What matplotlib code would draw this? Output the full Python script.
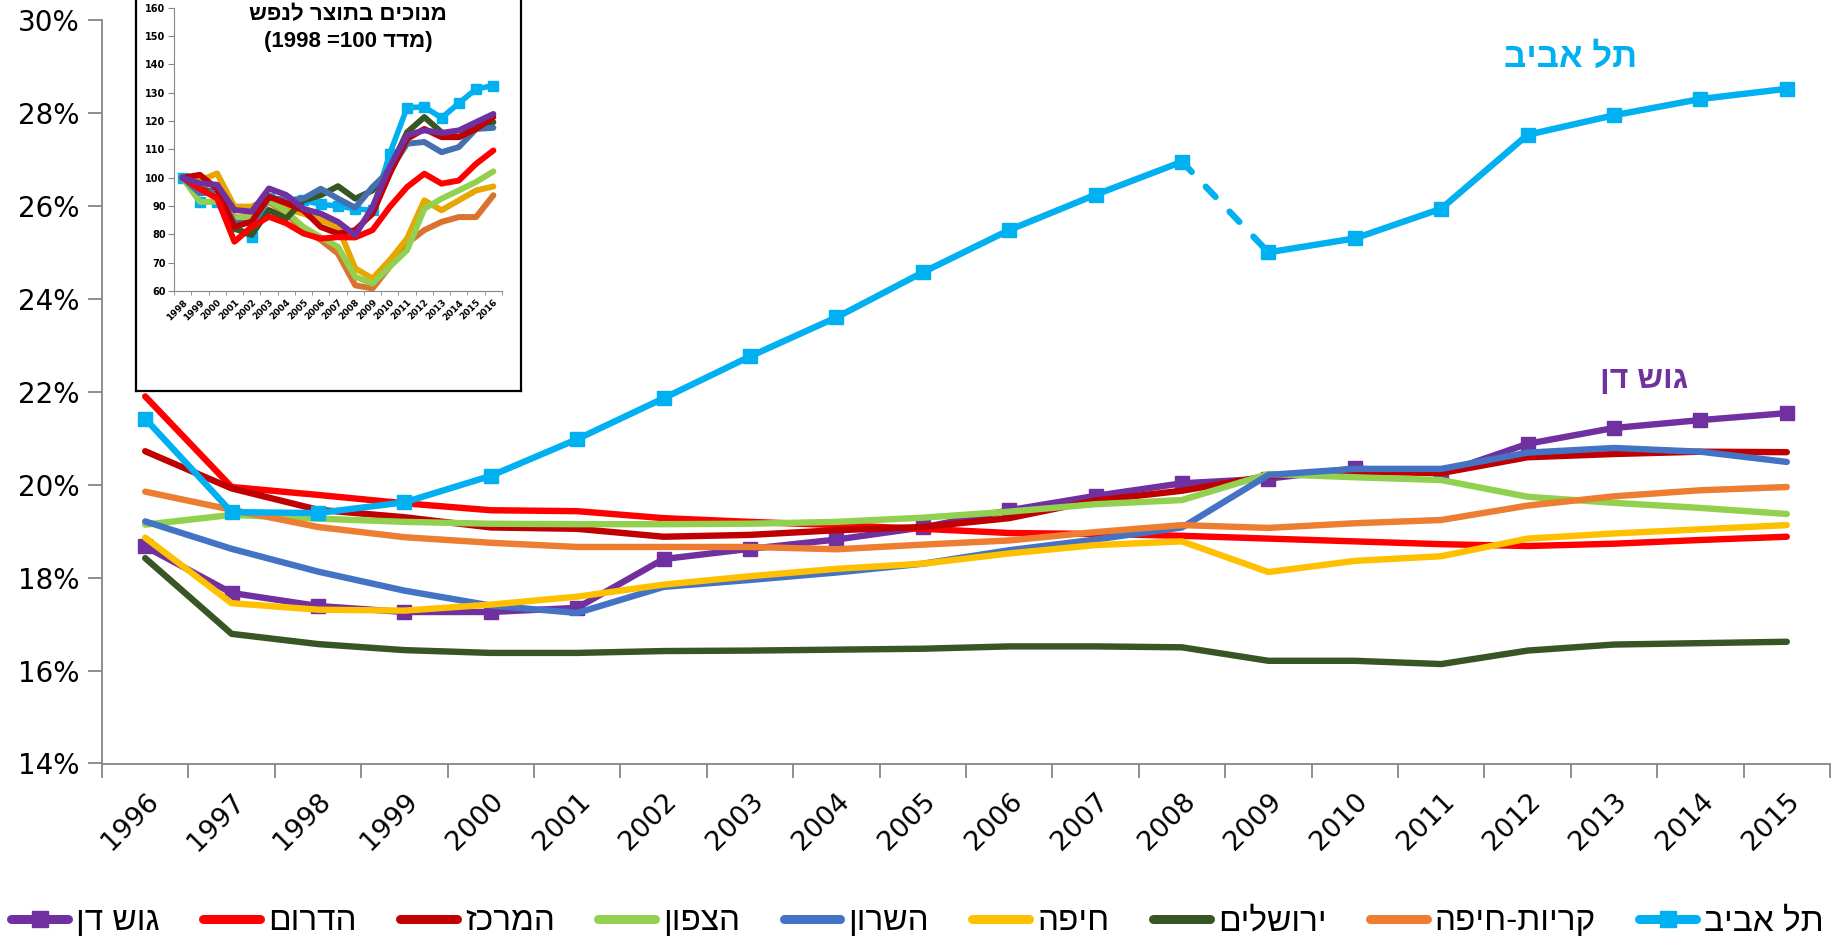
import numpy as np
import matplotlib
matplotlib.use("Agg")
import matplotlib.pyplot as plt
from matplotlib.lines import Line2D

plt.rcParams['font.family'] = ['DejaVu Sans']
HEB = ['Liberation Sans', 'DejaVu Sans']


def heb(s):
    # matplotlib has no bidi support, so Hebrew is laid out in visual order
    return s[::-1]


# ---- main chart: share by region, 1996-2015 (%)
years = list(range(1996, 2016))

gush_dan = [18.67, 17.67, 17.39, 17.26, 17.26, 17.35, 18.40, 18.62, 18.82, 19.08,
            19.45, 19.76, 20.03, 20.13, 20.35, 20.24, 20.88, 21.22, 21.39, 21.54]
darom = [21.90, 19.95, 19.78, 19.60, 19.45, 19.43, 19.28, 19.20, 19.13, 19.05,
         18.96, 18.94, 18.90, 18.84, 18.78, 18.72, 18.68, 18.73, 18.81, 18.88]
merkaz = [20.72, 19.92, 19.46, 19.30, 19.08, 19.05, 18.88, 18.92, 19.02, 19.09,
          19.28, 19.66, 19.87, 20.19, 20.28, 20.25, 20.59, 20.66, 20.71, 20.70]
tzafon = [19.14, 19.35, 19.27, 19.20, 19.16, 19.15, 19.15, 19.16, 19.20, 19.29,
          19.42, 19.58, 19.67, 20.23, 20.16, 20.10, 19.74, 19.61, 19.50, 19.37]
sharon = [19.21, 18.62, 18.13, 17.72, 17.40, 17.24, 17.80, 17.95, 18.11, 18.30,
          18.59, 18.82, 19.08, 20.21, 20.34, 20.34, 20.69, 20.79, 20.71, 20.49]
haifa = [18.86, 17.45, 17.31, 17.29, 17.42, 17.59, 17.85, 18.03, 18.19, 18.30,
         18.52, 18.70, 18.78, 18.12, 18.36, 18.46, 18.84, 18.95, 19.04, 19.13]
jerusalem = [18.42, 16.79, 16.57, 16.44, 16.38, 16.38, 16.42, 16.43, 16.45, 16.47,
             16.52, 16.52, 16.50, 16.21, 16.21, 16.14, 16.43, 16.56, 16.59, 16.62]
krayot = [19.85, 19.46, 19.09, 18.87, 18.75, 18.66, 18.66, 18.66, 18.61, 18.71,
          18.80, 18.98, 19.13, 19.07, 19.17, 19.24, 19.55, 19.75, 19.88, 19.95]
tel_aviv = [21.42, 19.41, 19.39, 19.62, 20.19, 20.98, 21.86, 22.76, 23.60, 24.57,
            25.48, 26.24, 26.95, 25.00, 25.30, 25.94, 27.53, 27.95, 28.30, 28.52]

names = ["גוש דן", "הדרום", "המרכז", "הצפון", "השרון", "חיפה", "ירושלים", "קריות-חיפה", "תל אביב"]
colors = ["#7030A0", "#FF0000", "#C00000", "#92D050", "#4472C4", "#FFC000", "#375623", "#ED7D31", "#00B0F0"]
series = [gush_dan, darom, merkaz, tzafon, sharon, haifa, jerusalem, krayot, tel_aviv]

# ---- inset: index of product per capita (1998 = 100)
inset_years = list(range(1998, 2017))
idx_gush_dan = [100, 98, 97.5, 88.6, 88, 96.2, 93.9, 89, 87.3, 84.4, 79.7, 89.7, 103.8, 115, 116.7, 115.8, 116.7, 119.6, 122.5]
idx_darom = [100, 96, 92.7, 77.4, 82.7, 86.2, 83.9, 80.3, 78.5, 79, 78.9, 81.5, 89.7, 96.7, 101.4, 97.9, 99, 104.9, 109.6]
idx_merkaz = [100, 101, 96, 82.7, 84.5, 93.3, 91, 88.5, 82.6, 80.3, 81.5, 87.3, 101.4, 113.7, 117.2, 114.3, 114.3, 117.2, 121.4]
idx_tzafon = [100, 91.5, 91.5, 85.6, 86, 92, 88, 82.6, 79, 75.6, 65, 62.6, 68.6, 74.4, 89, 92.6, 95.5, 98.5, 102.2]
idx_sharon = [100, 94.5, 95, 84, 84, 93, 92, 92.6, 96.1, 92.6, 89.4, 96.7, 102.6, 112, 112.6, 109, 110.8, 117.2, 117.6]
idx_haifa = [100, 99, 101.5, 89.8, 89.8, 92.7, 89, 87.3, 85, 82.6, 68, 64.4, 70.9, 78.5, 92, 88.5, 92, 95.5, 96.9]
idx_jerusalem = [100, 96, 94.5, 82, 79.8, 88.6, 85.6, 92, 93.8, 97, 92.6, 95.5, 103.2, 116, 121.4, 116, 114.3, 117.8, 119.6]
idx_krayot = [100, 96, 95, 86, 86, 91.5, 87.4, 81.5, 78, 73.2, 62, 60.9, 68.6, 76.8, 81.5, 84.4, 86.1, 86.1, 93.8]
idx_tel_aviv = [100, 91.5, 91.5, 83, 79, 93, 92, 92, 90.6, 90, 89, 88.5, 108.5, 124.7, 125, 121.1, 126.3, 131.3, 132.5]

# drawing order in the inset (last on top)
inset_series = [(idx_tel_aviv, "#00B0F0"), (idx_krayot, "#D9732E"), (idx_haifa, "#E6A800"),
                (idx_tzafon, "#92D050"), (idx_jerusalem, "#375623"), (idx_sharon, "#4470B0"),
                (idx_merkaz, "#C00000"), (idx_darom, "#FF0000"), (idx_gush_dan, "#7030A0")]

W, H = 1839, 939
fig = plt.figure(figsize=(W / 100, H / 100), dpi=100)
ax = fig.add_axes([102 / W, 1 - 763.5 / H, (1830 - 102) / W, (763.5 - 20) / H])

x = np.arange(len(years))
LW = 4.6
grey = "#868686"

for vals, col, name in zip(series, colors, names):
    v = np.array(vals)
    if name == "תל אביב":
        ax.plot(x[:13], v[:13], color=col, lw=LW, solid_capstyle='round', solid_joinstyle='round',
                marker='s', ms=10, zorder=3)
        ax.plot(x[13:], v[13:], color=col, lw=LW, solid_capstyle='round', solid_joinstyle='round',
                marker='s', ms=10, zorder=3)
        ax.plot(x[12:14], v[12:14], color=col, lw=LW, linestyle=(0, (2.2, 3.2)),
                dash_capstyle='round', zorder=3)
    elif name == "גוש דן":
        ax.plot(x, v, color=col, lw=LW, solid_capstyle='round', solid_joinstyle='round',
                marker='s', ms=10, zorder=2)
    else:
        ax.plot(x, v, color=col, lw=LW, solid_capstyle='round', solid_joinstyle='round', zorder=2)

ax.set_xlim(-0.5, len(years) - 0.5)
ax.set_ylim(14, 30)
ax.set_yticks(np.arange(14, 31, 2))
ax.set_yticklabels([f"{t}%" for t in range(14, 31, 2)], fontsize=20)
ax.set_xticks(x)
ax.set_xticklabels([str(y) for y in years], fontsize=19.5, rotation=45, ha='right',
                   va='top', rotation_mode='anchor')
ax.set_xticks(np.arange(-0.5, len(years), 1), minor=True)
ax.tick_params(axis='x', which='major', length=0, pad=18)
ax.tick_params(axis='x', which='minor', length=10, color=grey, width=1.3)
ax.tick_params(axis='y', length=10, color=grey, width=1.3, pad=6)
for side in ['top', 'right']:
    ax.spines[side].set_visible(False)
for side in ['left', 'bottom']:
    ax.spines[side].set_color(grey)
    ax.spines[side].set_linewidth(1.3)

ax.text(len(years) - 3.5, 29.2, heb("תל אביב"), color="#00B0F0", fontsize=25,
        fontweight='bold', family=HEB, ha='center', va='center')
ax.text(len(years) - 2.65, 22.25, heb("גוש דן"), color="#7030A0", fontsize=23,
        fontweight='bold', family=HEB, ha='center', va='center')

# legend along the bottom
handles = []
for col, name in zip(colors, names):
    mk = 's' if name in ("תל אביב", "גוש דן") else None
    handles.append(Line2D([0], [0], color=col, lw=6.5, solid_capstyle='round', marker=mk, ms=11))
fig.legend(handles, [heb(n) for n in names], loc='center', bbox_to_anchor=(0.499, 1 - 922 / H),
           ncol=9, frameon=False, prop={'family': HEB, 'size': 24}, handlelength=1.7,
           handletextpad=0.25, columnspacing=1.3, borderpad=0.1)

# inset frame and chart
frame = fig.add_axes([136 / W, 1 - 391 / H, (521 - 136) / W, 391 / H + 0.02], zorder=5)
frame.set_xticks([])
frame.set_yticks([])
frame.set_facecolor('white')
for s in frame.spines.values():
    s.set_color('black')
    s.set_linewidth(1.6)

iax = fig.add_axes([174 / W, 1 - 291 / H, (502 - 174) / W, (291 - 7.7) / H], zorder=6)
iax.patch.set_alpha(0)
xi = np.arange(len(inset_years))
for vals, col in inset_series:
    if col == "#00B0F0":
        iax.plot(xi, vals, color=col, lw=4, marker='s', ms=7.5, solid_joinstyle='round')
    else:
        iax.plot(xi, vals, color=col, lw=4.3, solid_capstyle='round', solid_joinstyle='round')
iax.set_xlim(-0.5, len(inset_years) - 0.5)
iax.set_ylim(60, 160)
iax.set_yticks(np.arange(60, 161, 10))
iax.tick_params(axis='y', labelsize=7, length=4, color=grey, pad=2)
for lab in iax.get_yticklabels():
    lab.set_fontweight('bold')
iax.set_xticks(xi)
iax.set_xticklabels([str(y) for y in inset_years], fontsize=6.5, fontweight='bold', rotation=45,
                    ha='right', va='top', rotation_mode='anchor')
iax.set_xticks(np.arange(-0.5, len(inset_years), 1), minor=True)
iax.tick_params(axis='x', which='major', length=0, pad=5)
iax.tick_params(axis='x', which='minor', length=3, color=grey)
for side in ['top', 'right']:
    iax.spines[side].set_visible(False)
for side in ['left', 'bottom']:
    iax.spines[side].set_color(grey)

fig.text(348 / W, 1 - 15 / H, heb("מנוכים בתוצר לנפש"), fontsize=16, fontweight='bold',
         family=HEB, ha='center', va='center', zorder=7)
fig.text(348 / W, 1 - 41 / H, "(1998 =100 " + heb("מדד") + ")", fontsize=16, fontweight='bold',
         family=HEB, ha='center', va='center', zorder=7)

fig.savefig("out.png", dpi=100)
